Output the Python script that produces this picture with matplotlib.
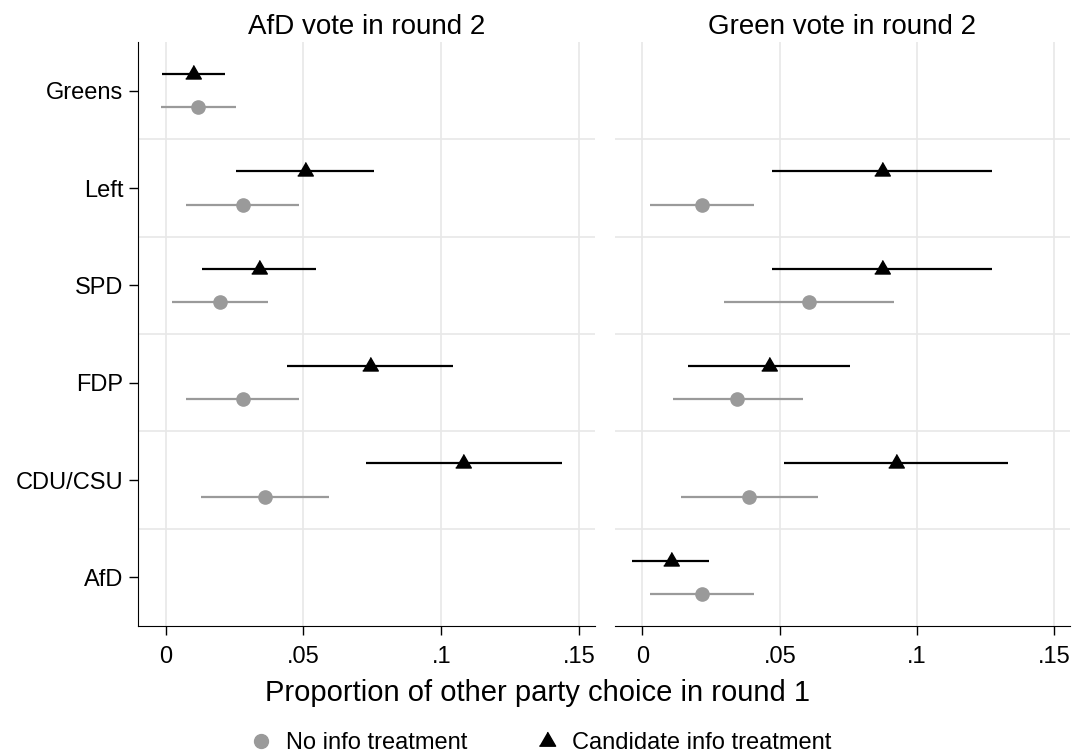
import numpy as np
import matplotlib.pyplot as plt
from matplotlib.lines import Line2D

plt.rcParams['font.family'] = ['Liberation Sans', 'DejaVu Sans']

parties = ['Greens', 'Left', 'SPD', 'FDP', 'CDU/CSU', 'AfD']
panel_titles = ['AfD vote in round 2', 'Green vote in round 2']

# AfD vote in round 2
afd_none = [0.0118, 0.0279, 0.0198, 0.0279, 0.0359, np.nan]
afd_none_lo = [-0.0016, 0.0074, 0.0025, 0.0074, 0.0128, np.nan]
afd_none_hi = [0.0255, 0.0484, 0.0373, 0.0484, 0.0592, np.nan]
afd_cand = [0.0100, 0.0505, 0.0337, 0.0741, 0.1079, np.nan]
afd_cand_lo = [-0.0013, 0.0255, 0.0131, 0.0442, 0.0725, np.nan]
afd_cand_hi = [0.0215, 0.0756, 0.0544, 0.1042, 0.1436, np.nan]

# Green vote in round 2
grn_none = [np.nan, 0.0216, 0.0605, 0.0346, 0.0389, 0.0216]
grn_none_lo = [np.nan, 0.0028, 0.0297, 0.0111, 0.0140, 0.0028]
grn_none_hi = [np.nan, 0.0406, 0.0915, 0.0583, 0.0640, 0.0406]
grn_cand = [np.nan, 0.0871, 0.0871, 0.0461, 0.0922, 0.0103]
grn_cand_lo = [np.nan, 0.0472, 0.0472, 0.0165, 0.0514, -0.0039]
grn_cand_hi = [np.nan, 0.1272, 0.1272, 0.0757, 0.1332, 0.0244]

xticks = [0, 0.05, 0.1, 0.15]
xtick_labels = ['0', '.05', '.1', '.15']

GRAY = '#9a9a9a'
GRID = '#e8e8e8'
tri = [(-1, -0.577), (1, -0.577), (0, 1.155)]

fig = plt.figure(figsize=(10.75, 7.56), dpi=100)
ax1 = fig.add_axes([138 / 1075, 1 - 626 / 756, 457 / 1075, 584 / 756])
ax2 = fig.add_axes([615 / 1075, 1 - 626 / 756, 455 / 1075, 584 / 756])

panels = [
    (ax1, afd_none, afd_none_lo, afd_none_hi, afd_cand, afd_cand_lo, afd_cand_hi),
    (ax2, grn_none, grn_none_lo, grn_none_hi, grn_cand, grn_cand_lo, grn_cand_hi),
]

y = np.arange(len(parties))
for i, (ax, n, nlo, nhi, c, clo, chi) in enumerate(panels):
    n, nlo, nhi = np.array(n), np.array(nlo), np.array(nhi)
    c, clo, chi = np.array(c), np.array(clo), np.array(chi)
    ax.hlines(y + 0.17, nlo, nhi, color=GRAY, lw=1.6, zorder=3)
    ax.plot(n, y + 0.17, 'o', color=GRAY, ms=9.5, zorder=4)
    ax.hlines(y - 0.17, clo, chi, color='black', lw=1.6, zorder=3)
    ax.plot(c, y - 0.17, marker=tri, ls='none', color='black', ms=13, zorder=4)

    ax.set_ylim(5.5, -0.5)
    ax.set_xlim(-0.01, 0.1557)
    ax.set_xticks(xticks)
    ax.set_xticklabels(xtick_labels, fontsize=17)
    ax.set_yticks(y)
    ax.set_yticks(np.arange(0.5, 5, 1), minor=True)
    ax.grid(axis='x', which='major', color=GRID, lw=1.2)
    ax.grid(axis='y', which='minor', color=GRID, lw=1.2)
    ax.set_axisbelow(True)
    ax.tick_params(axis='x', length=6.5, width=1, pad=8)
    ax.tick_params(axis='y', which='minor', length=0)
    ax.spines['top'].set_visible(False)
    ax.spines['right'].set_visible(False)
    ax.set_title(panel_titles[i], fontsize=20, pad=6)
    if i == 0:
        ax.set_yticklabels(parties, fontsize=17)
        ax.tick_params(axis='y', length=6.5, width=1, pad=4)
    else:
        ax.spines['left'].set_visible(False)
        ax.tick_params(axis='y', which='both', length=0, labelleft=False)

fig.text(0.5, 1 - 693 / 756, 'Proportion of other party choice in round 1',
         ha='center', va='center', fontsize=21)

handles = [
    Line2D([], [], marker='o', ls='none', color=GRAY, ms=10, label='No info treatment'),
    Line2D([], [], marker=tri, ls='none', color='black', ms=13.5, label='Candidate info treatment'),
]
fig.legend(handles=handles, loc='center', bbox_to_anchor=(0.5, 1 - 743 / 756), ncol=2,
           frameon=False, fontsize=17, handletextpad=0.3, columnspacing=2.65,
           handlelength=1.5)

fig.savefig('out.png', dpi=100)
